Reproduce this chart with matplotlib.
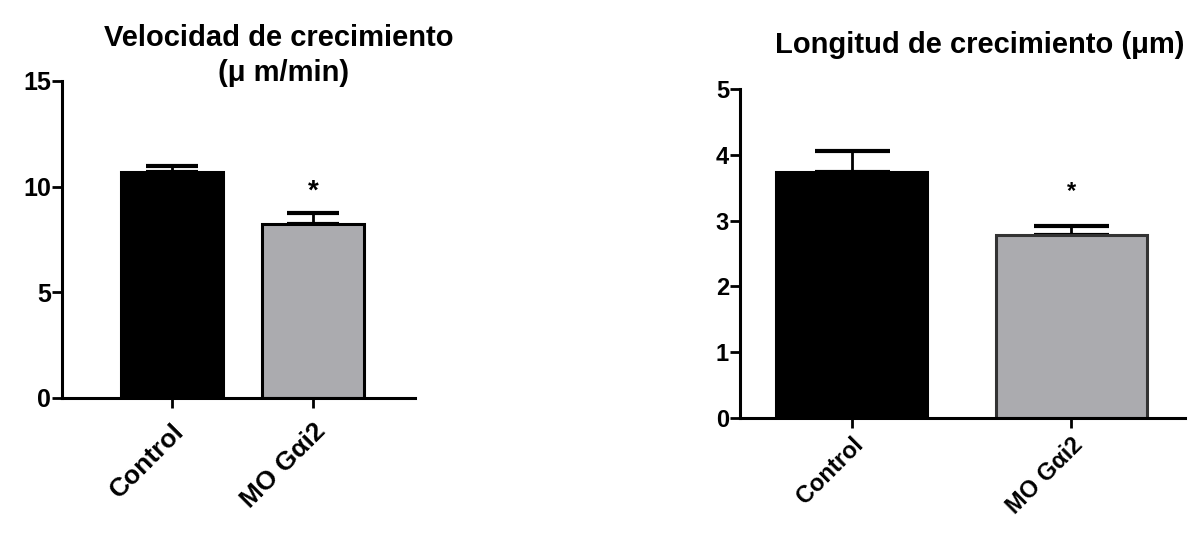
import matplotlib
matplotlib.use("Agg")
import matplotlib.pyplot as plt

plt.rcParams['font.family'] = ['Liberation Sans', 'DejaVu Sans']
plt.rcParams['font.weight'] = 'bold'

categories = ["Control", "MO G\u03b1i2"]
vel_means = [10.7, 8.25]
vel_err = [0.25, 0.5]
len_means = [3.74, 2.78]
len_err = [0.32, 0.14]
bar_colors = ["#000000", "#ababaf"]

fig = plt.figure(figsize=(11.92, 5.33), dpi=100)

def style(ax, ylim, yticks, ysize, xpad):
    ax.set_ylim(*ylim)
    ax.set_yticks(yticks)
    for s in ["top", "right"]:
        ax.spines[s].set_visible(False)
    for s in ["left", "bottom"]:
        ax.spines[s].set_linewidth(2.2)
    ax.tick_params(axis="both", width=2, length=7)
    ax.tick_params(axis="y", labelsize=ysize, pad=1)
    ax.tick_params(axis="x", pad=xpad)
    for lab in ax.get_yticklabels():
        lab.set_fontweight("bold")

# Left panel
ax1 = fig.add_axes([0.052, 0.2533, 0.296, 0.595])
x = [0, 1]
ax1.bar(x, vel_means, width=0.72, color=bar_colors, edgecolor="black", linewidth=2.2, zorder=2)
ax1.errorbar(x, vel_means, yerr=[[0, 0], vel_err], fmt="none", ecolor="black",
             elinewidth=2, capsize=19, capthick=3, zorder=1)
ax1.set_xlim(-0.78, 1.72)
style(ax1, (0, 15), [0, 5, 10, 15], 18, 8)
ax1.set_xticks(x)
ax1.set_xticklabels(categories, rotation=45, ha="right", rotation_mode="anchor",
                    fontsize=19, fontweight="bold")
ax1.text(1, 9.15, "*", ha="center", va="bottom", fontsize=20, fontweight="bold")
fig.text(0.234, 0.929, "Velocidad de crecimiento", ha="center", va="center",
         fontsize=21, fontweight="bold")
fig.text(0.238, 0.863, "(\u03bc m/min)", ha="center", va="center",
         fontsize=21, fontweight="bold")

# Right panel
ax2 = fig.add_axes([0.621, 0.216, 0.373, 0.617])
ax2.bar(x, len_means, width=0.69, color=bar_colors, edgecolor=["black", "#333333"],
        linewidth=2.2, zorder=2)
ax2.errorbar(x, len_means, yerr=[[0, 0], len_err], fmt="none", ecolor="black",
             elinewidth=2, capsize=27, capthick=3, zorder=1)
ax2.set_xlim(-0.507, 1.516)
style(ax2, (0, 5), [0, 1, 2, 3, 4, 5], 17, 4)
ax2.set_xticks(x)
ax2.set_xticklabels(categories, rotation=45, ha="right", rotation_mode="anchor",
                    fontsize=17, fontweight="bold")
ax2.text(1, 3.27, "*", ha="center", va="bottom", fontsize=17, fontweight="bold")
fig.text(0.822, 0.916, "Longitud de crecimiento (\u03bcm)", ha="center", va="center",
         fontsize=21, fontweight="bold")

fig.savefig("out.png", dpi=100)
